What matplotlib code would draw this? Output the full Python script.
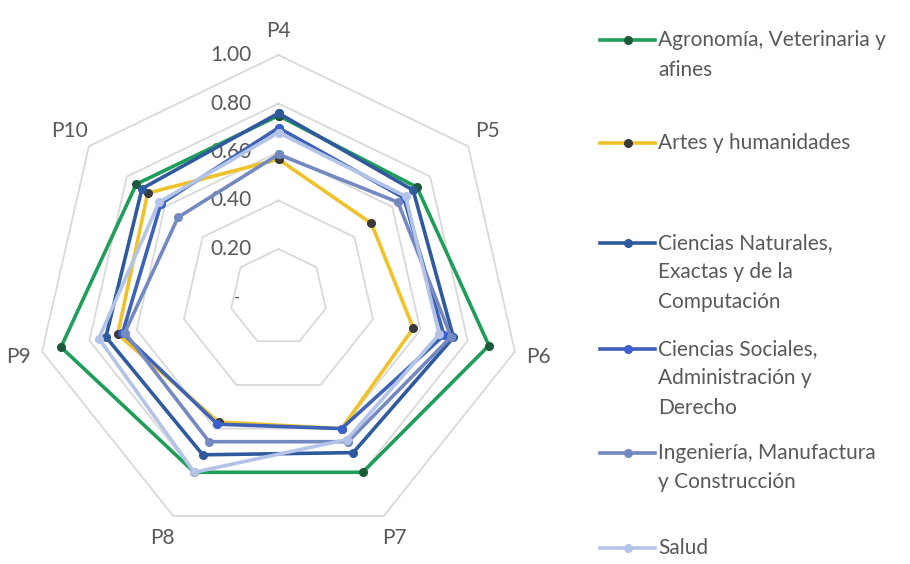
import numpy as np
import matplotlib
matplotlib.use("Agg")
import matplotlib.pyplot as plt
from matplotlib.lines import Line2D

plt.rcParams['font.family'] = ['Lato', 'DejaVu Sans']

categories = ["P4", "P5", "P6", "P7", "P8", "P9", "P10"]
tick_values = [0.2, 0.4, 0.6, 0.8, 1.0]
tick_labels = ["0.20", "0.40", "0.60", "0.80", "1.00"]

series_names = [
    "Agronomía, Veterinaria y\nafines",
    "Artes y humanidades",
    "Ciencias Naturales,\nExactas y de la\nComputación",
    "Ciencias Sociales,\nAdministración y\nDerecho",
    "Ingeniería, Manufactura\ny Construcción",
    "Salud",
]
agronomia = [0.75, 0.73, 0.89, 0.80, 0.80, 0.92, 0.75]
artes = [0.57, 0.49, 0.57, 0.60, 0.57, 0.68, 0.69]
naturales = [0.76, 0.71, 0.74, 0.71, 0.72, 0.73, 0.72]
sociales = [0.70, 0.66, 0.70, 0.60, 0.58, 0.66, 0.62]
ingenieria = [0.59, 0.63, 0.73, 0.66, 0.66, 0.65, 0.53]
salud = [0.68, 0.67, 0.68, 0.65, 0.80, 0.76, 0.63]
all_series = [agronomia, artes, naturales, sociales, ingenieria, salud]

line_colors = ["#1E9E58", "#F0C22A", "#2F5A9E", "#3D62B8", "#7489C2", "#B4C4E8"]
marker_colors = ["#1C5A3C", "#3A3A3A", "#2F5A9E", "#3A60CC", "#7489C2", "#B4C4E8"]

W, H = 910, 564
fig = plt.figure(figsize=(W / 100, H / 100), dpi=100)
cx, cy, R = 278.5, 297.5, 242.5
ax = fig.add_axes([(cx - R) / W, (H - cy - R) / H, 2 * R / W, 2 * R / H],
                  projection="polar")
ax.set_theta_zero_location("N")
ax.set_theta_direction(-1)
ax.set_ylim(0, 1.0)
ax.grid(False)
ax.spines["polar"].set_visible(False)
ax.set_xticks([])
ax.set_yticks([])
ax.patch.set_alpha(0)

n = len(categories)
angles = np.linspace(0, 2 * np.pi, n, endpoint=False)
closed = np.concatenate([angles, angles[:1]])

# polygonal gridlines
for r in tick_values:
    ax.plot(closed, [r] * (n + 1), color="#D9D9D9", lw=1.3, zorder=1, clip_on=False)

text_color = "#595959"

# radial value labels along the first spoke
for r, lab in zip(tick_values, tick_labels):
    ax.annotate(lab, xy=(0, r), xytext=(-27, 0), textcoords="offset pixels",
                ha="right", va="center", fontsize=15, color=text_color)
ax.annotate("-", xy=(0, 0), xytext=(-41, 0), textcoords="offset pixels",
            ha="center", va="center", fontsize=12, color=text_color)

# category labels
for a, lab in zip(angles, categories):
    ax.text(a, 1.10, lab, ha="center", va="center", fontsize=15,
            color=text_color, clip_on=False)

# data series
for vals, lc, mc in zip(all_series, line_colors, marker_colors):
    v = list(vals) + [vals[0]]
    ax.plot(closed, v, color=lc, lw=2.6, marker="o", markersize=5.5,
            markerfacecolor=mc, markeredgecolor=mc, zorder=3, clip_on=False)

# legend drawn on the right
legend_rows = [40, 143, 243, 349, 453, 548]
line_gap = 29.5
for name, lc, mc, y0 in zip(series_names, line_colors, marker_colors, legend_rows):
    yf = 1 - y0 / H
    fig.add_artist(Line2D([600 / W, 655 / W], [yf, yf], color=lc, lw=2.6,
                          transform=fig.transFigure))
    fig.add_artist(Line2D([627.5 / W], [yf], color=mc, marker="o", markersize=5.5,
                          markerfacecolor=mc, markeredgecolor=mc, lw=0,
                          transform=fig.transFigure))
    for i, part in enumerate(name.split("\n")):
        fig.text(658 / W, 1 - (y0 + i * line_gap) / H, part, ha="left",
                 va="center", fontsize=15, color=text_color)

fig.savefig("out.png", dpi=100)
